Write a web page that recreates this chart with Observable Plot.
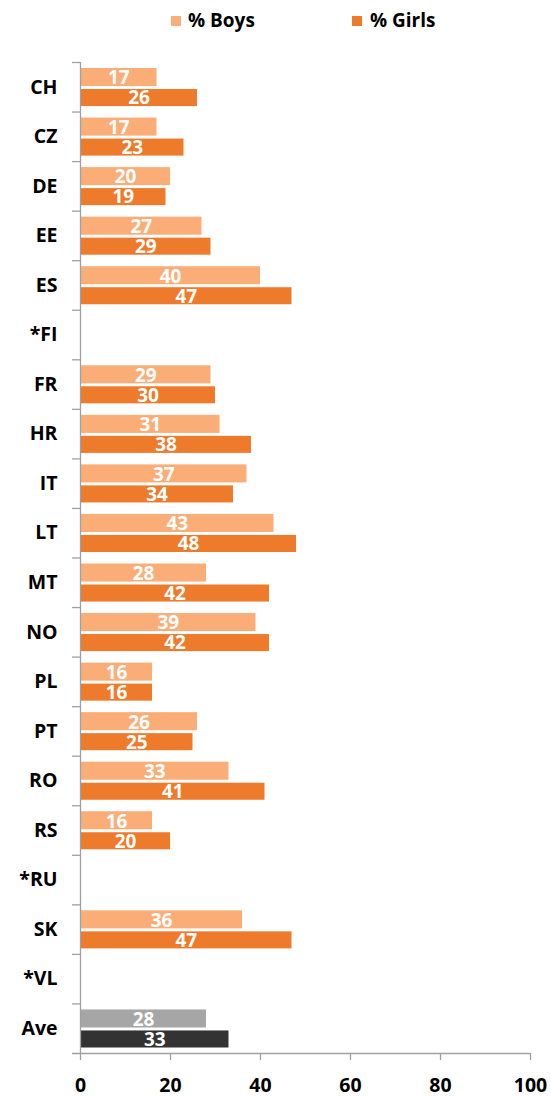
<!DOCTYPE html>
<html><head><meta charset="utf-8">
<script src="https://cdn.jsdelivr.net/npm/d3@7"></script>
<script src="https://cdn.jsdelivr.net/npm/@observablehq/plot@0.6"></script>
<style>
body{margin:0;background:#fff;font-family:"Open Sans", Lato, sans-serif;}
#legend{position:relative;height:40px;width:551px;font-weight:bold;font-size:19px;color:#000;}
.sw{position:absolute;top:16px;width:10px;height:10px;}
.lb{position:absolute;top:8px;line-height:24px;white-space:nowrap;}
#chart svg{display:block;}
#chart svg [aria-label^="x-axis"] text{font-weight:bold;font-size:19.5px;fill:#000;}
#chart svg [aria-label^="y-axis"] text{font-weight:bold;font-size:19.5px;fill:#000;}
#chart svg [aria-label^="x-axis"] line,
#chart svg [aria-label^="x-axis"] path{stroke:#a0a0a0;stroke-width:1.3px;}
</style></head><body>
<div id="legend"></div>
<div id="chart"></div>
<script>
const countries = ["CH","CZ","DE","EE","ES","*FI","FR","HR","IT","LT","MT","NO","PL","PT","RO","RS","*RU","SK","*VL","Ave"];
const boys  = [17,17,20,27,40,null,29,31,37,43,28,39,16,26,33,16,null,36,null,28];
const girls = [26,23,19,29,47,null,30,38,34,48,42,42,16,25,41,20,null,47,null,33];
const seriesNames = ["% Boys","% Girls"];
const xTicks = [0,20,40,60,80,100];
const colorKeys = ["Boys","Girls","Ave Boys","Ave Girls"];
const colorRange = ["#FBAD78","#EE7A2B","#A6A6A6","#333333"];

// legend (HTML, above the SVG)
const legend = document.getElementById("legend");
const legPos = [{sx:171, tx:188}, {sx:352, tx:370}];
seriesNames.forEach((name, i) => {
  const sw = document.createElement("div");
  sw.className = "sw"; sw.style.left = legPos[i].sx + "px"; sw.style.background = colorRange[i];
  const lb = document.createElement("div");
  lb.className = "lb"; lb.style.left = legPos[i].tx + "px"; lb.textContent = name;
  legend.appendChild(sw); legend.appendChild(lb);
});

const rowsB = countries.map((c, i) => ({country: c, value: boys[i], key: c === "Ave" ? "Ave Boys" : "Boys"})).filter(d => d.value != null);
const rowsG = countries.map((c, i) => ({country: c, value: girls[i], key: c === "Ave" ? "Ave Girls" : "Girls"})).filter(d => d.value != null);

const W = 551, H = 1057, mt = 22, mb = 44;
const bw = (H - mt - mb) / countries.length;
const gray = "#a0a0a0";
const font = "'Open Sans', Lato, sans-serif";

const chart = Plot.plot({
  width: W, height: H,
  marginTop: mt, marginBottom: mb, marginLeft: 80, marginRight: 21,
  style: {fontFamily: font, background: "#fff", overflow: "visible"},
  x: {domain: [0, 100], ticks: xTicks, tickSize: 7, tickPadding: 18, label: null},
  y: {domain: countries, padding: 0, round: false, tickSize: 0, tickPadding: 23, label: null},
  color: {domain: colorKeys, range: colorRange},
  marks: [
    Plot.barX(rowsB, {y: "country", x: "value", fill: "key", insetTop: 6, insetBottom: 25.5}),
    Plot.barX(rowsG, {y: "country", x: "value", fill: "key", insetTop: 27, insetBottom: 5.5}),
    Plot.text(rowsB, {y: "country", x: d => d.value / 2, text: d => String(d.value), dy: -9, fill: "white", fontWeight: "bold", fontSize: 19}),
    Plot.text(rowsG, {y: "country", x: d => d.value / 2, text: d => String(d.value), dy: 11, fill: "white", fontWeight: "bold", fontSize: 19}),
    Plot.ruleX([0], {stroke: gray, strokeWidth: 1.3}),
    Plot.ruleY(countries, {y: d => d, dy: -bw / 2, x1: -8 / 4.5, x2: 0, stroke: gray, strokeWidth: 1.3}),
    Plot.ruleY(["Ave"], {y: d => d, dy: bw / 2, x1: -8 / 4.5, x2: 100, stroke: gray, strokeWidth: 1.3})
  ]
});
chart.querySelectorAll('[aria-label^="x-axis"] .domain, [aria-label^="y-axis"] .domain').forEach(e => e.remove());
document.getElementById("chart").appendChild(chart);
</script>
</body></html>
